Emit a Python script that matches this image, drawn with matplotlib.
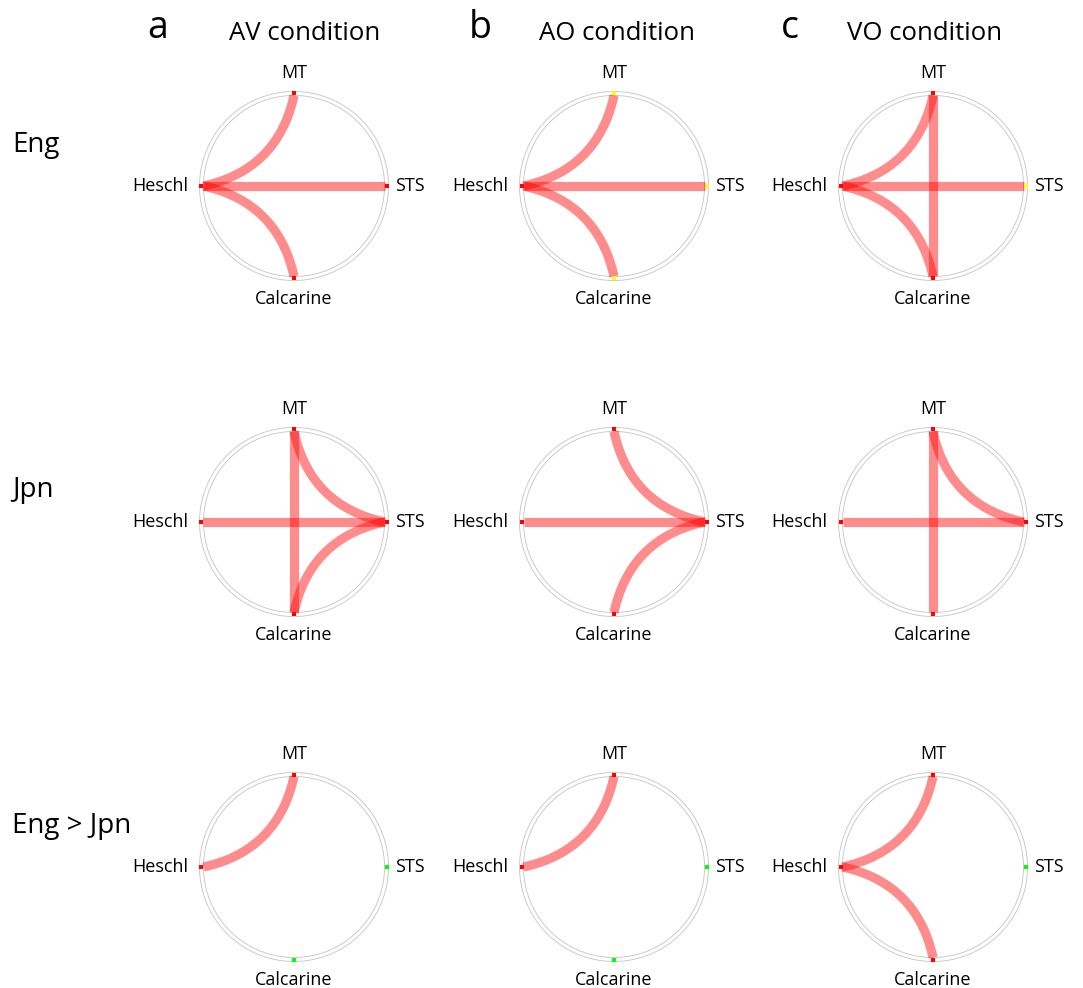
import numpy as np
import matplotlib.pyplot as plt

plt.rcParams['font.family'] = ['Open Sans', 'DejaVu Sans']

# nodes on the ring (angle in degrees)
nodes = ['MT', 'STS', 'Calcarine', 'Heschl']
node_angles = [90, 0, 270, 180]

conditions = ['AV condition', 'AO condition', 'VO condition']
letters = ['a', 'b', 'c']
groups = ['Eng', 'Jpn', 'Eng > Jpn']

# connections for each group, one list per condition (AV, AO, VO)
edges_eng = [
    [('Heschl', 'MT'), ('Heschl', 'STS'), ('Heschl', 'Calcarine')],
    [('Heschl', 'MT'), ('Heschl', 'STS'), ('Heschl', 'Calcarine')],
    [('Heschl', 'MT'), ('Heschl', 'STS'), ('Heschl', 'Calcarine'), ('MT', 'Calcarine')],
]
edges_jpn = [
    [('Heschl', 'STS'), ('MT', 'STS'), ('Calcarine', 'STS'), ('MT', 'Calcarine')],
    [('Heschl', 'STS'), ('MT', 'STS'), ('Calcarine', 'STS')],
    [('Heschl', 'STS'), ('MT', 'STS'), ('MT', 'Calcarine')],
]
edges_diff = [
    [('Heschl', 'MT')],
    [('Heschl', 'MT')],
    [('Heschl', 'MT'), ('Heschl', 'Calcarine')],
]

# node marker colours (order: MT, STS, Calcarine, Heschl)
colors_eng = [
    ['red', 'red', 'red', 'red'],
    ['yellow', 'yellow', 'yellow', 'red'],
    ['red', 'yellow', 'red', 'red'],
]
colors_jpn = [
    ['red', 'red', 'red', 'red'],
    ['red', 'red', 'red', 'red'],
    ['red', 'red', 'red', 'red'],
]
colors_diff = [
    ['red', 'lime', 'lime', 'red'],
    ['red', 'lime', 'lime', 'red'],
    ['red', 'lime', 'red', 'red'],
]

all_edges = [edges_eng, edges_jpn, edges_diff]
all_colors = [colors_eng, colors_jpn, colors_diff]

# layout (pixels)
W, H = 1083, 988
col_x = [294, 614, 933]
row_y = [186, 522, 867]
R_IN = 90.5
R_OUT = 94.5
HALF = 150

fig = plt.figure(figsize=(W / 100, H / 100), dpi=100)


def node_xy(name):
    a = np.deg2rad(node_angles[nodes.index(name)])
    return np.array([np.cos(a), np.sin(a)])


def bezier(p0, p2, h=0.36):
    c = h * (p0 + p2) / 2
    t = np.linspace(0, 1, 100)[:, None]
    return (1 - t) ** 2 * p0 + 2 * (1 - t) * t * c + t ** 2 * p2


lim = HALF / R_IN
th = np.linspace(0, 2 * np.pi, 400)

for i, g in enumerate(groups):
    for j, cond in enumerate(conditions):
        cx, cy = col_x[j], row_y[i]
        ax = fig.add_axes([(cx - HALF) / W, 1 - (cy + HALF) / H, 2 * HALF / W, 2 * HALF / H])
        ax.set_xlim(-lim, lim)
        ax.set_ylim(-lim, lim)
        ax.axis('off')

        ax.plot(np.cos(th), np.sin(th), color='#c4c4c4', lw=0.6)
        ro = R_OUT / R_IN
        ax.plot(ro * np.cos(th), ro * np.sin(th), color='#c4c4c4', lw=0.6)

        for a, b in all_edges[i][j]:
            pts = bezier(node_xy(a), node_xy(b))
            ax.plot(pts[:, 0], pts[:, 1], color='red', alpha=0.45, lw=6.6,
                    solid_capstyle='butt')

        for k, n in enumerate(nodes):
            p = node_xy(n) * (R_IN + 2) / R_IN
            ax.scatter(p[0], p[1], marker='s', s=12, color=all_colors[i][j][k],
                       linewidths=0, zorder=5)

        ax.text(0, 113 / R_IN, 'MT', ha='center', va='center', fontsize=13)
        ax.text(0, -113 / R_IN, 'Calcarine', ha='center', va='center', fontsize=13)
        ax.text(-106 / R_IN, 0, 'Heschl', ha='right', va='center', fontsize=13)
        ax.text(101 / R_IN, 0, 'STS', ha='left', va='center', fontsize=13)

# column headers
header_x = [305, 617, 925]
letter_x = [158, 480, 790]
for j in range(3):
    fig.text(letter_x[j] / W, 1 - 28 / H, letters[j], ha='center', va='center', fontsize=27)
    fig.text(header_x[j] / W, 1 - 33 / H, conditions[j], ha='center', va='center', fontsize=18.5)

# row labels
label_y = [145, 490, 826]
for i, g in enumerate(groups):
    fig.text(12 / W, 1 - label_y[i] / H, g, ha='left', va='center', fontsize=20)

fig.savefig('out.png', dpi=100)
